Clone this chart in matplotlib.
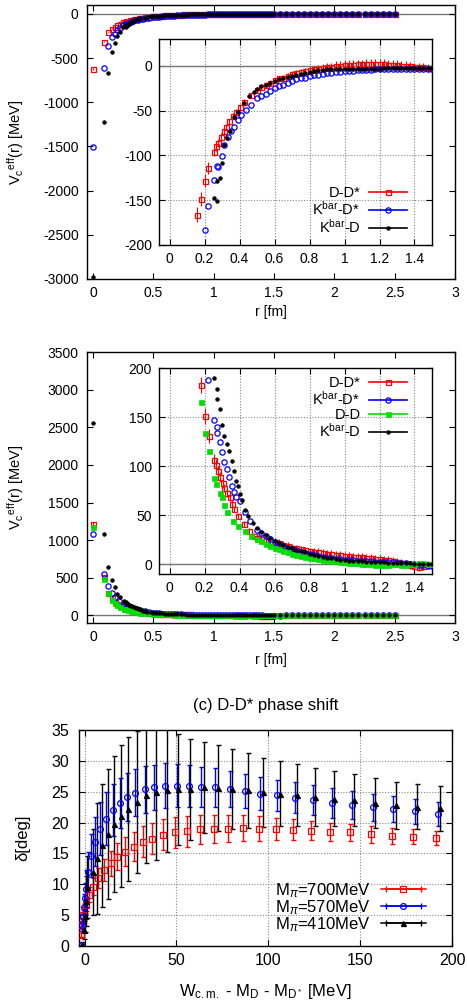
import matplotlib
matplotlib.use('Agg')
import matplotlib.pyplot as plt
from matplotlib.lines import Line2D
from matplotlib.legend_handler import HandlerLine2D
from matplotlib.ticker import FuncFormatter

plt.rcParams['font.family'] = ['Liberation Sans', 'DejaVu Sans']
plt.rcParams['mathtext.fontset'] = 'custom'
plt.rcParams['mathtext.rm'] = 'Liberation Sans'
plt.rcParams['mathtext.it'] = 'Liberation Sans:italic'
plt.rcParams['axes.unicode_minus'] = False
plt.rcParams['font.size'] = 10

# ---- data: r grid shared by all potentials at large distance [fm]
R_FAR = [0.50, 0.525, 0.55, 0.575, 0.60, 0.625, 0.65, 0.675, 0.70, 0.725,
         0.75, 0.775, 0.80, 0.825, 0.85, 0.875, 0.90, 0.925, 0.95, 0.975,
         1.00, 1.025, 1.05, 1.075, 1.10, 1.125, 1.15, 1.175, 1.20, 1.225,
         1.25, 1.275, 1.30, 1.325, 1.35, 1.375, 1.40, 1.425, 1.45, 1.475,
         1.50,
         1.55, 1.60, 1.65, 1.70, 1.75, 1.80, 1.85, 1.90, 1.95, 2.00,
         2.05, 2.10, 2.15, 2.20, 2.25, 2.30, 2.35, 2.40, 2.45, 2.50]

# ---- panel 1 : attractive channels [MeV]
r1_dds = [0, 0.09, 0.127, 0.156, 0.18, 0.20, 0.222, 0.252, 0.266, 0.275,
          0.294, 0.309, 0.323, 0.342, 0.36, 0.38, 0.40, 0.427, 0.465]
v1_dds = [-625, -314, -208, -166, -149, -128, -114, -96, -90, -86,
          -79, -73, -68, -62, -56, -51, -46, -40, -33]
e1_dds = [15, 10, 8, 8, 8, 7, 7, 5, 5, 4, 4, 4, 3, 3, 3, 3, 3, 3, 3]
v1_dds_far = [-27, -24, -21, -19, -16, -14, -13, -11, -9, -8,
              -7, -6, -5, -4, -3, -2, -1, -1, 0, 0,
              1, 1, 1, 2, 2, 2, 2, 2, 2, 2,
              1, 1, 1, 0, 0, 0, -1, -1, -1, -2,
              -2,
              -2, -2, -2, -1, -1, -1, -1, -1, -1, -1,
              0, 0, 0, 0, 0, 0, 0, 0, 0, 0]
e1_dds_far = [3, 3, 3, 3, 3, 3, 3, 3, 3, 3, 4, 4, 4, 4, 4, 4, 4, 4, 5, 5,
              5, 5, 5, 5, 5, 6, 6, 6, 6, 6, 5, 5, 5, 5, 5, 4, 4, 4, 4, 4,
              4,
              4, 4, 4, 4, 4, 4, 4, 4, 4, 4, 4, 4, 4, 4, 4, 4, 4, 4, 4, 4]

r1_kds = [0, 0.09, 0.127, 0.156, 0.18, 0.20, 0.222, 0.252, 0.27, 0.276,
          0.298, 0.313, 0.332, 0.35, 0.37, 0.39, 0.41, 0.436, 0.465]
v1_kds = [-1511, -617, -360, -265, -225, -183, -157, -127, -112, -113,
          -101, -88, -79, -73, -68, -60, -55, -49, -44]
v1_kds_far = [-36, -34, -31, -28, -25, -23, -21, -19, -17, -15,
              -14, -13, -11, -10, -10, -9, -8, -8, -7, -7,
              -6, -6, -6, -5, -5, -5, -5, -4, -4, -4,
              -4, -4, -4, -3, -3, -3, -3, -3, -3, -4,
              -4,
              -4, -3, -3, -3, -3, -2, -2, -2, -2, -2,
              -2, -2, -1, -1, -1, -1, -1, -1, -1, -1]

r1_kd = [0, 0.09, 0.127, 0.156, 0.18, 0.20, 0.222, 0.252, 0.27, 0.27,
         0.288, 0.30, 0.313, 0.328, 0.347, 0.37, 0.393, 0.427, 0.455, 0.484]
v1_kd = [-2973, -1224, -670, -435, -333, -254, -208, -147, -151, -128,
         -125, -108, -88, -81, -73, -57, -52, -42, -34, -29]
v1_kd_far = [-26, -23, -21, -19, -17, -15, -13, -12, -11, -10,
             -9, -8, -7, -6, -5, -5, -4, -4, -4, -3,
             -3, -3, -3, -3, -3, -3, -3, -3, -3, -2,
             -2, -2, -2, -2, -2, -2, -2, -2, -2, -2,
             -2,
             -2, -2, -2, -2, -2, -1, -1, -1, -1, -1,
             -1, -1, -1, -1, -1, -1, -1, -1, -1, -1]

# ---- panel 2 : repulsive channels [MeV]
r2_dds = [0, 0.09, 0.127, 0.156, 0.181, 0.20, 0.223, 0.257, 0.267, 0.276,
          0.291, 0.305, 0.314, 0.33, 0.343, 0.357, 0.37, 0.39, 0.425, 0.453, 0.48]
v2_dds = [1212, 510, 297, 230, 183, 151, 131, 106, 101, 95,
          89, 83, 78, 73, 68, 61, 56, 49, 41, 34, 29]
e2_dds = [30, 15, 10, 8, 8, 8, 7, 6, 6, 5, 5, 5, 4, 4, 4, 4, 3, 3, 3, 3, 3]
v2_dds_far = [27, 26, 25, 24, 23, 22, 20, 19, 17, 16,
              15, 14, 13, 12, 12, 11, 10, 10, 9, 9,
              8, 8, 7, 7, 7, 6, 6, 5, 5, 4,
              4, 3, 2, 1, 0, -1, -2, -3, -2, -1,
              0,
              0, 1, 1, 1, 0, 0, 0, 0, 0, 0,
              0, 0, 0, 0, 0, 0, 0, 0, 0, 0]
e2_dds_far = [4, 4, 4, 4, 4, 4, 4, 4, 4, 4, 4, 4, 4, 4, 4, 4, 4, 4, 4, 4,
              4, 4, 4, 4, 4, 4, 4, 4, 4, 4, 4, 4, 4, 4, 4, 4, 4, 4, 4, 4,
              4,
              4, 4, 4, 4, 4, 4, 4, 4, 4, 4, 4, 4, 4, 4, 4, 4, 4, 4, 4, 4]

r2_kds = [0, 0.09, 0.127, 0.156, 0.181, 0.219, 0.254, 0.269, 0.27, 0.286,
          0.30, 0.314, 0.327, 0.34, 0.355, 0.37, 0.382, 0.40, 0.43, 0.46]
v2_kds = [1080, 553, 385, 300, 240, 188, 147, 140, 134, 125,
          114, 104, 97, 89, 80, 74, 69, 64, 53, 44]
v2_kds_far = [35, 32, 29, 26, 23, 21, 19, 17, 15, 14,
              12, 11, 10, 9, 8, 7, 6, 6, 5, 5,
              4, 4, 4, 3, 3, 3, 3, 2, 2, 2,
              2, 2, 1, 1, 1, 0, 0, -1, -1, -2,
              -2,
              -1, 0, 0, 0, 0, 0, 0, 0, 0, 0,
              0, 0, 0, 0, 0, 0, 0, 0, 0, 0]

r2_dd = [0, 0.09, 0.127, 0.156, 0.181, 0.20, 0.223, 0.257, 0.267, 0.286,
         0.30, 0.314, 0.33, 0.362, 0.39, 0.43, 0.466]
v2_dd = [1180, 487, 295, 208, 165, 134, 115, 88, 82, 73,
         68, 60, 53, 44, 39, 34, 29]
v2_dd_far = [26, 24, 21, 19, 17, 15, 13, 12, 10, 9,
             8, 7, 6, 6, 5, 4, 4, 3, 3, 2,
             2, 1, 1, 1, 0, 0, 0, -1, -1, -1,
             -1, 0, 0, -1, -1, 0, 0, 1, 1, 0,
             0,
             0, 0, 0, 0, 0, 0, 0, 0, 0, 0,
             0, 0, 0, 0, 0, 0, 0, 0, 0, 0]

r2_kd = [0, 0.09, 0.127, 0.156, 0.18, 0.20, 0.222, 0.254, 0.273, 0.273,
         0.286, 0.301, 0.314, 0.327, 0.34, 0.355, 0.368, 0.38, 0.39, 0.403,
         0.415, 0.434, 0.45, 0.477]
v2_kd = [2560, 1084, 650, 473, 377, 288, 252, 190, 179, 168,
         158, 142, 131, 123, 115, 105, 95, 85, 80, 72,
         65, 55, 49, 42]
v2_kd_far = [37, 33, 30, 27, 24, 22, 20, 18, 16, 14,
             13, 12, 10, 9, 8, 7, 6, 6, 5, 4,
             4, 3, 3, 3, 3, 2, 2, 2, 2, 2,
             1, 1, 1, 1, 1, 1, 0, 0, 0, 0,
             0,
             0, 0, 0, 0, 0, 0, 0, 0, 0, 0,
             0, 0, 0, 0, 0, 0, 0, 0, 0, 0]

# ---- panel 3 : D-D* phase shift
w_700 = [-2.2, -2.0, -1.8, -0.9, 0.9, 2.7, 4.5, 7.3, 10.5, 14.2,
         17.8, 22.2, 26.9, 31.8, 36.9, 42.7, 49.0, 56.0, 62.7, 70.3,
         78.1, 86.5, 95.0, 104.1, 113.7, 123.5, 133.6, 144.4, 155.7, 167.1,
         178.9, 191.1]
d_700 = [0, 1.8, 3.4, 5.1, 6.6, 8.3, 9.6, 11.0, 12.3, 13.4,
         14.5, 15.3, 16.1, 16.9, 17.4, 18.0, 18.4, 18.6, 18.9, 19.0,
         19.0, 19.1, 19.0, 19.0, 18.8, 18.7, 18.5, 18.4, 18.1, 17.9,
         17.7, 17.5]
e_700 = [0.2, 0.4, 0.6, 0.8, 1.0, 1.2, 1.4, 1.6, 1.8, 2.0,
         2.2, 2.3, 2.4, 2.5, 2.5, 2.5, 2.5, 2.5, 2.4, 2.3,
         2.2, 2.1, 2.0, 1.8, 1.7, 1.6, 1.5, 1.4, 1.35, 1.3,
         1.25, 1.2]

w_570 = [-1.8, -1.6, -0.9, -0.2, 0.4, 0.9, 1.8, 3.3, 5.8, 8.6,
         11.8, 15.4, 19.1, 23.1, 27.6, 32.7, 37.8, 43.6, 50.5, 56.9,
         63.6, 71.2, 79.0, 87.6, 95.7, 105.0, 114.4, 124.4, 134.8, 145.4,
         156.8, 168.1, 179.8, 192.2]
d_570 = [0.2, 3.4, 4.8, 6.4, 7.7, 9.3, 12.0, 14.6, 16.9, 19.0,
         20.6, 22.0, 23.2, 24.2, 24.8, 25.4, 25.7, 26.0, 26.0, 26.0,
         25.8, 25.7, 25.4, 25.1, 24.7, 24.4, 24.0, 23.7, 23.2, 22.8,
         22.5, 22.2, 21.8, 21.4]
e_570 = [0.3, 1.0, 1.5, 2.0, 2.5, 3.0, 3.3, 3.5, 4.0, 4.3,
         4.3, 4.2, 4.0, 3.9, 3.8, 3.8, 3.7, 3.6, 3.5, 3.4,
         3.25, 3.1, 2.9, 2.8, 2.65, 2.55, 2.5, 2.45, 2.4, 2.3,
         2.2, 2.1, 2.05, 2.0]

w_410 = [-1.3, -0.5, 0.2, 0.6, 1.3, 4.4, 6.9, 9.4, 12.7, 16.0,
         19.6, 23.6, 28.3, 33.4, 38.9, 44.7, 51.1, 57.4, 65.0, 72.7,
         80.3, 89.0, 97.2, 106.3, 115.9, 125.7, 135.9, 146.6, 158.1, 169.4,
         181.2, 193.5]
d_410 = [0.2, 2.6, 4.8, 7.3, 9.6, 12.0, 14.2, 16.3, 18.1, 19.8,
         21.1, 22.2, 23.3, 24.4, 24.9, 25.3, 25.4, 25.4, 25.7, 25.6,
         25.4, 25.2, 24.9, 24.7, 24.5, 24.2, 23.9, 23.6, 23.2, 22.8,
         22.6, 22.3]
e_410 = [0.5, 1.5, 2.5, 4.0, 5.0, 7.0, 9.0, 10.0, 10.5, 11.0,
         11.5, 11.7, 11.5, 11.0, 11.0, 10.0, 9.0, 8.2, 7.4, 7.0,
         6.5, 6.0, 5.6, 5.2, 5.0, 4.7, 4.5, 4.2, 4.0, 3.8,
         3.7, 3.6]

labels_pot1 = ['D-D*', 'K$^{\\rm bar}$-D*', 'K$^{\\rm bar}$-D']
labels_pot2 = ['D-D*', 'K$^{\\rm bar}$-D*', 'D-D', 'K$^{\\rm bar}$-D']
labels_pion = ['M$_\\pi$=700MeV', 'M$_\\pi$=570MeV', 'M$_\\pi$=410MeV']

STY = {
    'dds': dict(color='#ff0000', marker='s', mfc='none', ms=3.6, mew=0.9),
    'kds': dict(color='#0000ff', marker='o', mfc='none', ms=3.8, mew=0.9),
    'dd': dict(color='#00dd00', marker='s', mfc='#00dd00', ms=3.6, mew=0.5),
    'kd': dict(color='#000000', marker='o', mfc='#000000', ms=2.6, mew=0.5),
}

fmt = FuncFormatter(lambda v, p: '%g' % v)


def style_axes(ax, fs=10, padx=5, pady=6):
    ax.tick_params(direction='in', top=True, right=True, length=4, width=0.8,
                   labelsize=fs)
    ax.tick_params(axis='x', pad=padx)
    ax.tick_params(axis='y', pad=pady)
    ax.xaxis.set_major_formatter(fmt)
    ax.yaxis.set_major_formatter(fmt)
    for s in ax.spines.values():
        s.set_linewidth(1.0)


def draw_series(axs, r, v, key, err=None):
    st = STY[key]
    for ax in axs:
        if err is not None:
            ax.errorbar(r, v, yerr=err, fmt='none', ecolor=st['color'],
                        elinewidth=0.8, capsize=0, zorder=2)
        ax.plot(r, v, ls='none', marker=st['marker'], mfc=st['mfc'],
                mec=st['color'], ms=st['ms'], mew=st['mew'], zorder=3)


def handle(key):
    st = STY[key]
    return Line2D([], [], color=st['color'], lw=1.2, marker=st['marker'],
                  mfc=st['mfc'], mec=st['color'], ms=st['ms'], mew=st['mew'])


def grid_dotted(ax):
    ax.grid(True, color='#888888', ls=(0, (1, 1.5)), lw=0.8)
    ax.set_axisbelow(True)


W, H = 467.0, 1000.0


def box(l, t, r, b):
    return [l / W, 1 - b / H, (r - l) / W, (b - t) / H]


fig = plt.figure(figsize=(4.67, 10), dpi=100)

# ================= panel 1 =================
a1 = fig.add_axes(box(87, 5, 455, 279))
i1 = fig.add_axes(box(159, 39, 432, 245))
for ax in (a1, i1):
    ax.axhline(0, color='#777777', lw=1.0, zorder=1)
draw_series([a1, i1], r1_dds + R_FAR, v1_dds + v1_dds_far, 'dds', e1_dds + e1_dds_far)
draw_series([a1, i1], r1_kds + R_FAR, v1_kds + v1_kds_far, 'kds')
draw_series([a1, i1], r1_kd + R_FAR, v1_kd + v1_kd_far, 'kd')

a1.set_xlim(-0.05, 3)
a1.set_ylim(-3000, 100)
a1.set_xticks([0, 0.5, 1, 1.5, 2, 2.5, 3])
a1.set_yticks([0, -500, -1000, -1500, -2000, -2500, -3000])
style_axes(a1)
a1.set_xlabel('r [fm]', fontsize=10)
a1.xaxis.set_label_coords(0.5, -0.095)
a1.set_ylabel('V$_{\\rm c}$$^{\\rm eff}$(r) [MeV]', fontsize=10.5)
a1.yaxis.set_label_coords(-0.165, 0.5)

i1.set_xlim(-0.06, 1.5)
i1.set_ylim(-200, 30)
i1.set_xticks([0, 0.2, 0.4, 0.6, 0.8, 1, 1.2, 1.4])
i1.set_yticks([0, -50, -100, -150, -200])
style_axes(i1, pady=5)
grid_dotted(i1)
i1.legend([handle('dds'), handle('kds'), handle('kd')], labels_pot1,
          loc='lower right', bbox_to_anchor=(0.93, 0.015), frameon=False,
          markerfirst=False, numpoints=1, fontsize=10.5, handlelength=2.6,
          handletextpad=0.6, labelspacing=0.0, borderaxespad=0)

# ================= panel 2 =================
a2 = fig.add_axes(box(87, 352, 455, 623))
i2 = fig.add_axes(box(159, 368, 432, 574))
for ax in (a2, i2):
    ax.axhline(0, color='#777777', lw=1.0, zorder=1)
draw_series([a2, i2], r2_dds + R_FAR, v2_dds + v2_dds_far, 'dds', e2_dds + e2_dds_far)
draw_series([a2, i2], r2_kds + R_FAR, v2_kds + v2_kds_far, 'kds')
draw_series([a2, i2], r2_dd + R_FAR, v2_dd + v2_dd_far, 'dd')
draw_series([a2, i2], r2_kd + R_FAR, v2_kd + v2_kd_far, 'kd')

a2.set_xlim(-0.05, 3)
a2.set_ylim(-100, 3500)
a2.set_xticks([0, 0.5, 1, 1.5, 2, 2.5, 3])
a2.set_yticks([0, 500, 1000, 1500, 2000, 2500, 3000, 3500])
style_axes(a2)
a2.set_xlabel('r [fm]', fontsize=10)
a2.xaxis.set_label_coords(0.5, -0.11)
a2.set_ylabel('V$_{\\rm c}$$^{\\rm eff}$(r) [MeV]', fontsize=10.5)
a2.yaxis.set_label_coords(-0.165, 0.5)

i2.set_xlim(-0.06, 1.5)
i2.set_ylim(-10, 200)
i2.set_xticks([0, 0.2, 0.4, 0.6, 0.8, 1, 1.2, 1.4])
i2.set_yticks([0, 50, 100, 150, 200])
style_axes(i2, pady=5)
grid_dotted(i2)
i2.legend([handle('dds'), handle('kds'), handle('dd'), handle('kd')],
          labels_pot2, loc='upper right', bbox_to_anchor=(0.93, 0.99),
          frameon=False, markerfirst=False, numpoints=1, fontsize=10.5,
          handlelength=2.6, handletextpad=0.6, labelspacing=0.0,
          borderaxespad=0)

# ================= panel 3 =================
a3 = fig.add_axes(box(79, 730, 452, 946))
grid_dotted(a3)
pion = [(w_700, d_700, e_700, 'dds'), (w_570, d_570, e_570, 'kds'),
        (w_410, d_410, e_410, 'kd')]
p_sty = {'dds': dict(marker='s', mfc='none', ms=4.2),
         'kds': dict(marker='o', mfc='none', ms=4.2),
         'kd': dict(marker='^', mfc='#000000', ms=3.6)}
handles3 = []
hmap = {}
for w, d, e, key in pion:
    c = STY[key]['color']
    ps = p_sty[key]
    a3.errorbar(w, d, yerr=e, fmt='none', ecolor=c, elinewidth=1.0,
                capsize=1.8, capthick=1.0, zorder=2)
    a3.plot(w, d, ls='none', marker=ps['marker'], mfc=ps['mfc'], mec=c,
            ms=ps['ms'], mew=0.9, zorder=3)
    hm = Line2D([], [], color=c, lw=1.1, marker=ps['marker'], mfc=ps['mfc'],
                mec=c, ms=ps['ms'], mew=0.9)
    hc = Line2D([], [], color=c, lw=1.1, marker='|', ms=5, mew=1.0)
    hmap[hc] = HandlerLine2D(numpoints=2)
    handles3.append((hm, hc))

a3.set_xlim(-3, 200)
a3.set_ylim(0, 35)
a3.set_xticks([0, 50, 100, 150, 200])
a3.set_yticks([0, 5, 10, 15, 20, 25, 30, 35])
style_axes(a3, fs=11.5, padx=5, pady=7)
a3.set_ylabel('\u03b4[deg]', fontsize=12)
a3.yaxis.set_label_coords(-0.13, 0.5)
a3.set_xlabel('W$_{\\rm c.m.}$ - M$_{\\rm D}$ - M$_{\\rm D^*}$ [MeV]', fontsize=12)
a3.xaxis.set_label_coords(0.5, -0.165)
a3.text(0.5, 1.115, '(c) D-D* phase shift', transform=a3.transAxes,
        ha='center', va='center', fontsize=12)
a3.legend(handles3, labels_pion, handler_map=hmap, loc='lower right',
          bbox_to_anchor=(0.947, 0.025), frameon=False, markerfirst=False,
          numpoints=1, fontsize=12, handlelength=2.7, handletextpad=0.6,
          labelspacing=-0.1, borderaxespad=0)

fig.savefig('out.png', dpi=100)
